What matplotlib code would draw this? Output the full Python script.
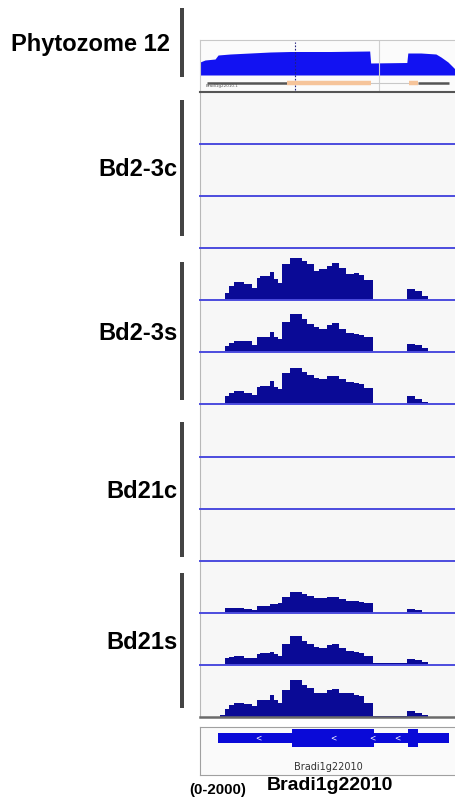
import matplotlib
matplotlib.use('Agg')
import matplotlib.pyplot as plt
from matplotlib.patches import Rectangle

# window on the chromosome, bp from window start
window = (0, 5100)

# read coverage, step edges shared by all samples (bp)
edges = [400, 500, 570, 670, 870, 1030, 1130, 1200, 1400, 1470, 1550, 1630,
         1800, 2030, 2130, 2270, 2370, 2530, 2630, 2770, 2900, 3070, 3170,
         3270, 3450, 4130, 4280, 4430, 4550]

bd23s_rep1 = [60, 300, 550, 720, 610, 490, 870, 930, 1090, 810, 680, 1380,
              1640, 1510, 1380, 1130, 1190, 1320, 1420, 1250, 1000, 1060,
              960, 780, 30, 420, 360, 170]
bd23s_rep2 = [60, 260, 380, 450, 420, 280, 580, 610, 770, 580, 510, 1150,
              1470, 1280, 1090, 960, 900, 1050, 1130, 900, 740, 700, 670,
              610, 30, 320, 280, 150]
bd23s_rep3 = [60, 320, 450, 510, 450, 380, 670, 700, 900, 670, 580, 1220,
              1410, 1250, 1150, 1000, 960, 1090, 1110, 960, 870, 830, 790,
              640, 30, 320, 220, 100]
bd21s_rep1 = [20, 190, 190, 190, 130, 100, 260, 280, 320, 320, 380, 610,
              810, 740, 640, 580, 580, 610, 610, 540, 470, 450, 420, 360,
              10, 130, 90, 40]
bd21s_rep2 = [40, 260, 310, 330, 280, 260, 420, 450, 510, 410, 360, 810,
              1100, 920, 790, 690, 640, 770, 810, 640, 540, 510, 460, 360,
              80, 230, 190, 100]
bd21s_rep3 = [60, 320, 450, 540, 490, 410, 640, 670, 860, 640, 540, 1050,
              1430, 1220, 1130, 920, 920, 1020, 1080, 920, 920, 840, 790,
              540, 30, 220, 150, 60]

groups = ['Bd2-3c', 'Bd2-3s', 'Bd21c', 'Bd21s']
group_tracks = [
    [None, None, None],
    [bd23s_rep1, bd23s_rep2, bd23s_rep3],
    [None, None, None],
    [bd21s_rep1, bd21s_rep2, bd21s_rep3],
]
data_range = (0, 2000)

# Phytozome 12 coverage profile (position bp, depth)
phyto_pos = [0, 100, 300, 360, 600, 1000, 1400, 1800, 2600, 3380, 3400,
             4120, 4140, 4400, 4700, 4800, 4940, 5040, 5100]
phyto_cov = [13, 15, 16, 20, 21, 22, 23, 23.5, 23.5, 24, 12,
             12.5, 22, 22, 21, 18, 13, 8, 5]
phyto_exons = [(1740, 3400), (4160, 4340)]
phyto_flanks = [(140, 1740), (4340, 4960)]
phyto_intron = (3400, 4160)
phyto_name = 'Bradi1g22010.1'

# gene model
gene_name = 'Bradi1g22010'
gene_span = (360, 4960)
gene_thick = [(1840, 3460), (4140, 4340)]
gene_arrows = [1160, 2660, 3440, 3940]

W, H = 456, 806
fig = plt.figure(figsize=(W / 100, H / 100), dpi=100)
fig.patch.set_facecolor('white')


def px_axes(left, top, width, height, **kw):
    return fig.add_axes([left / W, 1 - (top + height) / H, width / W, height / H], **kw)


panel_bg = '#f7f7f7'
cov_color = '#0a0a96'
base_color = '#4c4cde'

# --- Phytozome panel ---
ax = px_axes(200, 40, 256, 52)
ax.set_facecolor('#fbfbfb')
ax.set_zorder(50)
ax.fill_between(phyto_pos, 0, phyto_cov, color='#1212f2', lw=0)
ax.axvline(1900, ymin=2 / 52, ymax=50 / 52, color='#202080', lw=0.8, ls=(0, (1.5, 1.5)))
ax.axvline(3560, color='#d0d0d0', lw=0.8)
for a, b in phyto_flanks:
    ax.plot([a, b], [-8, -8], color='#555555', lw=1.8, solid_capstyle='butt')
ax.plot(phyto_intron, [-8, -8], color='#c8c8c8', lw=0.8)
for a, b in phyto_exons:
    ax.plot([a, b], [-8, -8], color='#f6c49a', lw=3.2, solid_capstyle='butt')
ax.text(120, -11.5, phyto_name, fontsize=3, color='#555555', va='center')
ax.set_xlim(window)
ax.set_ylim(-17, 35)
ax.set_xticks([])
ax.set_yticks([])
for s in ['top', 'left', 'right']:
    ax.spines[s].set_color('#c8c8c8')
    ax.spines[s].set_linewidth(0.8)
ax.spines['bottom'].set_color('#555555')
ax.spines['bottom'].set_linewidth(1.5)

# --- coverage tracks ---
row_top = 92
row_h = 52.08
n_rows = sum(len(t) for t in group_tracks)
i = 0
for tracks in group_tracks:
    for values in tracks:
        ax = px_axes(200, row_top + i * row_h, 256, row_h)
        # upper rows drawn last so each baseline sits on top of the next row
        ax.set_zorder(n_rows - i)
        ax.set_facecolor(panel_bg)
        if values is not None:
            ax.stairs(values, edges, fill=True, color=cov_color, lw=0)
        ax.set_xlim(window)
        ax.set_ylim(data_range)
        ax.set_xticks([])
        ax.set_yticks([])
        ax.spines['top'].set_visible(False)
        ax.spines['right'].set_visible(False)
        ax.spines['left'].set_color('#b8b8b8')
        ax.spines['left'].set_linewidth(0.8)
        last = i == n_rows - 1
        ax.spines['bottom'].set_color('#6a6a6a' if last else base_color)
        ax.spines['bottom'].set_linewidth(1.8 if last else 1.4)
        i += 1

# --- gene model ---
ax = px_axes(200, 727, 256, 48)
ax.set_facecolor('#fafafa')
ax.add_patch(Rectangle((gene_span[0], 6), gene_span[1] - gene_span[0], 10,
                       color='#0a0ad8', lw=0))
for a, b in gene_thick:
    ax.add_patch(Rectangle((a, 2), b - a, 18, color='#0a0ad8', lw=0))
for x in gene_arrows:
    ax.text(x, 11, '<', color='white', fontsize=5.5, ha='center', va='center')
ax.text(sum(gene_span) / 2 - 100, 40, gene_name, fontsize=7, color='#333333',
        ha='center', va='center', family='DejaVu Sans')
ax.set_xlim(window)
ax.set_ylim(48, 0)
ax.set_xticks([])
ax.set_yticks([])
for s in ax.spines.values():
    s.set_color('#a0a0a0')
    s.set_linewidth(0.8)

# --- labels and group bars ---
ov = fig.add_axes([0, 0, 1, 1], facecolor='none')
ov.set_zorder(100)
ov.set_xlim(0, W)
ov.set_ylim(H, 0)
ov.axis('off')
bold = dict(family='Liberation Sans', fontweight='bold', color='black')

bars = [(8, 77), (100, 236), (262, 400), (422, 557), (573, 708)]
for top, bottom in bars:
    ov.add_patch(Rectangle((180, top), 4, bottom - top, color='#444444', lw=0))

ov.text(170, 44, 'Phytozome 12', ha='right', va='center', fontsize=17, **bold)
for name, (top, bottom) in zip(groups, bars[1:]):
    ov.text(178, (top + bottom) / 2 + 2, name, ha='right', va='center', fontsize=17, **bold)

ov.text(218, 790, '(%d-%d)' % data_range, ha='center', va='center', fontsize=10.8, **bold)
ov.text(330, 786, gene_name, ha='center', va='center', fontsize=14, **bold)

fig.savefig('out.png', dpi=100)
